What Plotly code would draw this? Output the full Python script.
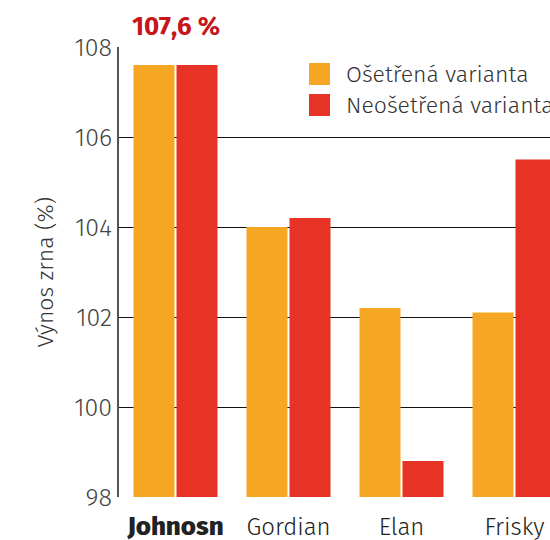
import plotly.graph_objects as go

varieties = ["Johnosn", "Gordian", "Elan", "Frisky"]
treated = [107.6, 104.0, 102.2, 102.1]
untreated = [107.6, 104.2, 98.8, 105.5]
series_names = ["Ošetřená varianta", "Neošetřená varianta"]
colors = ["#F5A724", "#E73325"]
y_ticks = [98, 100, 102, 104, 106, 108]
headline = "107,6 %"

font_family = "Fira Sans, Noto Sans, Open Sans, sans-serif"
tick_text = ["<span style='font-weight:800;font-size:26px'>" + varieties[0] + "</span>"] + varieties[1:]

fig = go.Figure()
for name, vals, col in zip(series_names, [treated, untreated], colors):
    fig.add_trace(go.Bar(x=varieties, y=vals, name=name, marker_color=col,
                         marker_line_width=0, showlegend=False))

# legend drawn by hand so the swatches can be larger
plot_w = 431
def px_x(p):
    return (p - 119) / plot_w

for i, (name, col) in enumerate(zip(series_names, colors)):
    top = 0.9644 - i * 0.0689
    fig.add_shape(type="rect", xref="paper", yref="paper",
                  x0=px_x(309), x1=px_x(330), y0=top - 0.0489, y1=top,
                  fillcolor=col, line_width=0)
    fig.add_annotation(text=name, xref="paper", yref="paper",
                       x=px_x(344), y=top - 0.0244, xanchor="left", yanchor="middle",
                       showarrow=False, font=dict(size=23, color="#333", weight=300))

fig.add_annotation(text="<b>" + headline + "</b>", xref="x", yref="paper",
                   x=varieties[0], y=1, yanchor="bottom", yshift=3,
                   showarrow=False, font=dict(size=26, color="#C4161C"))

fig.update_layout(
    width=550, height=540,
    margin=dict(l=119, r=0, t=47, b=43, autoexpand=False),
    paper_bgcolor="white", plot_bgcolor="white",
    font=dict(family=font_family, color="#333", weight=300),
    barmode="group", bargap=0.239, bargroupgap=0.0465,
    xaxis=dict(range=[-0.5, -0.5 + plot_w / 113], tickmode="array", tickvals=varieties,
               ticktext=tick_text, tickfont=dict(size=24, color="#222", weight=300),
               showgrid=False, showline=False, ticks="outside", ticklen=8,
               tickcolor="rgba(0,0,0,0)"),
    yaxis=dict(range=[98, 108], tickvals=y_ticks, tickfont=dict(size=25, color="#444", weight=300),
               showgrid=True, gridcolor="#111", gridwidth=1,
               showline=True, linecolor="#555", linewidth=2,
               zeroline=False, ticks="", ticklen=0,
               title=dict(text="Výnos zrna (%)", font=dict(size=23, color="#333", weight=300), standoff=14)),
)

# chart fills the whole window, no page margin
fig.write_html("out.html", config={"displayModeBar": False},
               post_script="document.body.style.margin='0';document.body.style.overflow='hidden';")
